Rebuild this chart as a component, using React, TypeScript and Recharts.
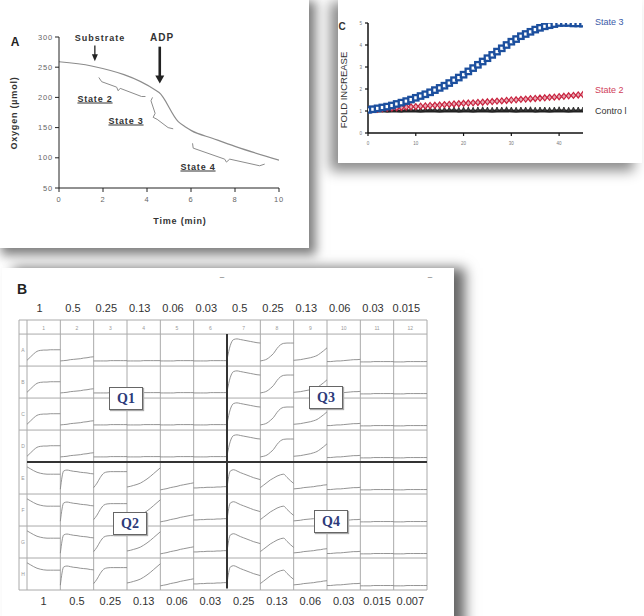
import React from 'react';
import { ComposedChart, Line, XAxis, YAxis, ReferenceLine, ReferenceArea, Scatter } from 'recharts';

// ---------- Panel A data ----------
const timeMin = [0, 1.48, 4.43, 4.55, 5.42, 5.75, 6.02, 7.0, 8.0, 10];
const oxygenUmol = [259, 252, 211, 208, 160, 151, 145, 132, 119, 96];
const xTicksA = [0, 2, 4, 6, 8, 10];
const yTicksA = [50, 100, 150, 200, 250, 300];
const state2BraceX = [1.81, 1.94, 2.62, 2.69, 2.78, 3.75, 3.93];
const state2BraceY = [233, 226, 217, 211, 215, 201.5, 201.5];
const state3BraceX = [4.25, 4.18, 4.37, 4.28, 4.46, 4.96, 5.19];
const state3BraceY = [200, 194.5, 173.6, 167, 163.7, 150, 148];
const state4BraceX = [6.07, 6.1, 7.53, 7.61, 7.76, 9.12, 9.35];
const state4BraceY = [124, 116, 97.8, 92.9, 97.8, 86.8, 89.6];
const arrowX = [1.63, 4.58];
const arrowTopY = [286, 284];
const arrowTipY = [260, 223];

// ---------- Panel C data ----------
const timeC = [0,1,2,3,4,5,6,7,8,9,10,11,12,13,14,15,16,17,18,19,20,21,22,23,24,25,26,27,28,29,30,31,32,33,34,35,36,37,38,39,40,41,42,43,44,45];
const state3Fold = [1.05,1.08,1.12,1.16,1.2,1.25,1.32,1.38,1.45,1.52,1.6,1.68,1.76,1.85,1.95,2.05,2.15,2.27,2.4,2.52,2.65,2.8,2.95,3.1,3.25,3.4,3.55,3.7,3.85,4.0,4.15,4.27,4.4,4.5,4.6,4.7,4.78,4.85,4.9,4.95,5.0,5.0,5.0,4.98,4.98,4.97];
const state2Fold = [1.05,1.07,1.08,1.1,1.12,1.13,1.15,1.16,1.18,1.19,1.2,1.22,1.23,1.25,1.26,1.27,1.29,1.3,1.32,1.33,1.35,1.36,1.37,1.39,1.4,1.42,1.43,1.45,1.46,1.48,1.5,1.51,1.53,1.54,1.56,1.57,1.59,1.6,1.62,1.63,1.65,1.67,1.69,1.71,1.73,1.75];
const controlFold = [1.0,0.99,1.0,1.01,0.99,1.0,1.0,0.99,1.01,1.0,1.0,0.99,1.0,1.01,1.0,0.99,1.0,1.0,1.01,0.99,1.0,1.0,0.99,1.0,1.01,1.0,0.99,1.0,1.0,1.01,1.0,0.99,1.0,1.0,1.01,0.99,1.0,1.0,0.99,1.0,1.01,1.0,0.99,1.0,1.0,1.0];
const xTicksC = [0, 10, 20, 30, 40];
const yTicksC = [0, 1, 2, 3, 4, 5];

// ---------- Panel B data ----------
const topConc = ['1','0.5','0.25','0.13','0.06','0.03','0.5','0.25','0.13','0.06','0.03','0.015'];
const bottomConc = ['1','0.5','0.25','0.13','0.06','0.03','0.25','0.13','0.06','0.03','0.015','0.007'];
const rowLetters = ['A','B','C','D','E','F','G','H'];
const colNumbers = ['1','2','3','4','5','6','7','8','9','10','11','12'];
const traceT = [0,0.1,0.2,0.3,0.4,0.5,0.6,0.7,0.8,0.9,1];
// trace shapes (fraction of cell height from top), read from the wells
const risePlateau = [0.82,0.72,0.62,0.54,0.51,0.5,0.5,0.49,0.49,0.49,0.49];
const slowRise = [0.84,0.83,0.82,0.8,0.79,0.78,0.77,0.75,0.74,0.72,0.71];
const flatLow = [0.84,0.84,0.84,0.84,0.84,0.83,0.83,0.83,0.83,0.83,0.83];
const spikeDecline = [0.8,0.35,0.17,0.15,0.17,0.19,0.21,0.23,0.25,0.27,0.28];
const sigmoidRise = [0.84,0.82,0.78,0.7,0.6,0.45,0.34,0.29,0.28,0.28,0.28];
const expRise = [0.82,0.81,0.8,0.78,0.76,0.74,0.71,0.67,0.6,0.52,0.43];
const faintRise = [0.86,0.86,0.85,0.84,0.84,0.83,0.82,0.81,0.8,0.8,0.79];
const flatBase = [0.87,0.87,0.87,0.87,0.86,0.86,0.86,0.86,0.86,0.86,0.86];
const decay = [0.15,0.21,0.27,0.32,0.35,0.37,0.38,0.38,0.38,0.38,0.38];
const jumpDrift = [0.85,0.28,0.25,0.27,0.29,0.3,0.32,0.33,0.34,0.36,0.37];
const earlySigmoid = [0.8,0.66,0.48,0.35,0.31,0.3,0.3,0.3,0.3,0.3,0.3];
const strongExpRise = [0.78,0.76,0.73,0.7,0.66,0.6,0.53,0.45,0.36,0.27,0.18];
const linearRise = [0.87,0.85,0.83,0.8,0.78,0.76,0.73,0.71,0.69,0.67,0.65];
const flatHigh = [0.81,0.81,0.8,0.8,0.79,0.79,0.79,0.78,0.78,0.77,0.77];
const spikeFall = [0.8,0.28,0.24,0.28,0.33,0.37,0.41,0.45,0.49,0.52,0.55];
const hump = [0.8,0.72,0.64,0.56,0.5,0.44,0.4,0.38,0.48,0.58,0.67];
const q1Shapes = [risePlateau, slowRise, flatLow, flatLow, flatLow, flatLow];
const q3Shapes = [spikeDecline, sigmoidRise, expRise, faintRise, flatBase, flatBase];
const q2Shapes = [decay, jumpDrift, earlySigmoid, strongExpRise, linearRise, flatHigh];
const q4Shapes = [spikeFall, hump, slowRise, faintRise, flatBase, flatBase];

const FONT = '"Liberation Sans", Arial, sans-serif';

const cells: { key: string; data: { x: number; y: number }[] }[] = [];
for (let r = 0; r < 8; r++) {
  for (let c = 0; c < 12; c++) {
    const shape = r < 4 ? (c < 6 ? q1Shapes[c] : q3Shapes[c - 6]) : (c < 6 ? q2Shapes[c] : q4Shapes[c - 6]);
    cells.push({ key: `${r}-${c}`, data: traceT.map((t, i) => ({ x: c + t, y: r + shape[i] })) });
  }
}
const colLabelPts = colNumbers.map((l, i) => ({ x: i + 0.5, y: -0.2, label: l }));
const rowLabelPts = rowLetters.map((l, i) => ({ x: -0.12, y: i + 0.5, label: l }));

const toXY = (xs: number[], ys: number[]) => xs.map((x, i) => ({ x, y: ys[i] }));
const oxygenData = toXY(timeMin, oxygenUmol);
const cData = timeC.map((t, i) => ({ t, s3: state3Fold[i], s2: state2Fold[i], c: controlFold[i] }));

const SquareDot = (p: any) => (p.cx == null ? null : <rect x={p.cx - 2.7} y={p.cy - 2.7} width={5.4} height={5.4} fill="#fff" stroke="#1c4f9e" strokeWidth={2.3} />);
const DiamondDot = (p: any) => (p.cx == null ? null : <path d={`M${p.cx},${p.cy - 3}L${p.cx + 2.4},${p.cy}L${p.cx},${p.cy + 3}L${p.cx - 2.4},${p.cy}Z`} fill="#e8a8b4" stroke="#c8243f" strokeWidth={1.2} />);
const TriDot = (p: any) => (p.cx == null ? null : <path d={`M${p.cx},${p.cy - 4}L${p.cx + 1.8},${p.cy}L${p.cx - 1.8},${p.cy}Z`} fill="#444" stroke="#222" strokeWidth={0.8} />);

const labelShape = (size: number) => (p: any) => (
  <text x={p.cx} y={p.cy} fontSize={size} fill="#999" textAnchor="middle" dominantBaseline="central" fontFamily={FONT}>{p.payload.label}</text>
);

const ArrowHead = (w: number, h: number) => (p: any) => (
  <path d={`M${p.cx},${p.cy}L${p.cx - w / 2},${p.cy - h}L${p.cx + w / 2},${p.cy - h}Z`} fill="#222" />
);

const qBox = (label: string, left: number, top: number) => (
  <div style={{ position: 'absolute', left, top, width: 34, height: 23, boxSizing: 'border-box', border: '1.5px solid #666', background: '#fff', boxShadow: '1px 1px 1px #aaa', display: 'flex', alignItems: 'center', justifyContent: 'center', fontFamily: '"Liberation Serif", "DejaVu Serif", serif', fontWeight: 'bold', fontSize: 14, color: '#2c3b7a' }}>{label}</div>
);

const txt = (s: string, left: number, top: number, style: React.CSSProperties = {}) => (
  <div style={{ position: 'absolute', left, top, transform: 'translate(-50%,-50%)', whiteSpace: 'nowrap', fontFamily: FONT, lineHeight: 1, ...style }}>{s}</div>
);

export default function App() {
  const axisTickA = { fontSize: 7.5, fill: '#666', fontFamily: FONT, letterSpacing: 0.8 };
  return (
    <div style={{ position: 'absolute', left: 0, top: 0, width: 644, height: 616, overflow: 'hidden', background: '#fff' }}>
      {/* Panel B card */}
      <div style={{ position: 'absolute', left: 2, top: 268, width: 452, height: 380, background: '#fff', boxShadow: '11px 0 12px rgba(0,0,0,0.6)' }} />
      {/* Panel A card */}
      <div style={{ position: 'absolute', left: -6, top: -6, width: 315, height: 254, background: '#fff', boxShadow: '7px 7px 10px rgba(0,0,0,0.5)' }} />
      {/* Panel C card */}
      <div style={{ position: 'absolute', left: 338, top: -6, width: 304, height: 169, background: '#fff', boxShadow: '-8px 8px 12px rgba(0,0,0,0.45)' }} />

      {/* ---------- Panel A ---------- */}
      <div style={{ position: 'absolute', left: 0, top: 0 }}>
        <ComposedChart width={309} height={248} margin={{ top: 37, right: 30, bottom: 30, left: 20 }}>
          <XAxis type="number" dataKey="x" domain={[0, 10]} ticks={xTicksA} allowDataOverflow height={30}
            axisLine={{ stroke: '#222' }} tickLine={{ stroke: '#222' }} tickSize={4} tickMargin={5} tick={axisTickA} />
          <YAxis type="number" domain={[50, 300]} ticks={yTicksA} allowDataOverflow width={39}
            axisLine={{ stroke: '#222' }} tickLine={{ stroke: '#222' }} tickSize={4} tickMargin={2} tick={axisTickA} />
          <Line data={oxygenData} dataKey="y" type="monotone" stroke="#8c8c8c" strokeWidth={1.2} dot={false} isAnimationActive={false} />
          <Line data={toXY(state2BraceX, state2BraceY)} dataKey="y" type="linear" stroke="#8c8c8c" strokeWidth={1} dot={false} isAnimationActive={false} />
          <Line data={toXY(state3BraceX, state3BraceY)} dataKey="y" type="linear" stroke="#8c8c8c" strokeWidth={1} dot={false} isAnimationActive={false} />
          <Line data={toXY(state4BraceX, state4BraceY)} dataKey="y" type="linear" stroke="#8c8c8c" strokeWidth={1} dot={false} isAnimationActive={false} />
          <ReferenceLine segment={[{ x: arrowX[0], y: arrowTopY[0] }, { x: arrowX[0], y: arrowTipY[0] + 8 }]} stroke="#222" strokeWidth={1.3} />
          <ReferenceLine segment={[{ x: arrowX[1], y: arrowTopY[1] }, { x: arrowX[1], y: arrowTipY[1] + 10 }]} stroke="#222" strokeWidth={2.6} />
          <Scatter data={[{ x: arrowX[0], y: arrowTipY[0] }]} dataKey="y" shape={ArrowHead(6, 7)} isAnimationActive={false} />
          <Scatter data={[{ x: arrowX[1], y: arrowTipY[1] }]} dataKey="y" shape={ArrowHead(9, 8)} isAnimationActive={false} />
        </ComposedChart>
      </div>
      {txt('A', 15, 42, { fontSize: 12, fontWeight: 'bold', color: '#222' })}
      {txt('Substrate', 100, 38, { fontSize: 9, fontWeight: 'bold', letterSpacing: 1, color: '#333' })}
      {txt('ADP', 162, 38, { fontSize: 10, fontWeight: 'bold', letterSpacing: 1, color: '#333' })}
      {txt('State 2', 95, 99, { fontSize: 9, fontWeight: 'bold', letterSpacing: 0.8, color: '#333', textDecoration: 'underline' })}
      {txt('State 3', 126, 121, { fontSize: 9, fontWeight: 'bold', letterSpacing: 0.8, color: '#333', textDecoration: 'underline' })}
      {txt('State 4', 198, 167, { fontSize: 9, fontWeight: 'bold', letterSpacing: 0.8, color: '#333', textDecoration: 'underline' })}
      {txt('Time (min)', 180, 221, { fontSize: 9, fontWeight: 'bold', letterSpacing: 0.8, color: '#333' })}
      {txt('Oxygen (µmol)', 14, 113, { fontSize: 9, fontWeight: 'bold', letterSpacing: 0.8, color: '#333', transform: 'translate(-50%,-50%) rotate(-90deg)' })}

      {/* ---------- Panel C ---------- */}
      <div style={{ position: 'absolute', left: 338, top: 0 }}>
        <ComposedChart width={304} height={163} data={cData} margin={{ top: 23, right: 59, bottom: 10, left: 10 }}>
          <XAxis type="number" dataKey="t" domain={[0, 45]} ticks={xTicksC} allowDataOverflow height={20}
            axisLine={{ stroke: '#111', strokeWidth: 1.5 }} tickLine={{ stroke: '#111', strokeWidth: 1.2 }} tickSize={3} tickMargin={6}
            tick={{ fontSize: 4.5, fill: '#777', fontFamily: FONT }} />
          <YAxis type="number" domain={[0, 5]} ticks={yTicksC} allowDataOverflow width={20}
            axisLine={{ stroke: '#111', strokeWidth: 1.5 }} tickLine={{ stroke: '#111', strokeWidth: 1.2 }} tickSize={3} tickMargin={3}
            tick={{ fontSize: 4.5, fill: '#777', fontFamily: FONT }} />
          <Line dataKey="c" type="linear" stroke="#222" strokeWidth={3} dot={TriDot} isAnimationActive={false} />
          <Line dataKey="s2" type="linear" stroke="#c8243f" strokeWidth={1.4} dot={DiamondDot} isAnimationActive={false} />
          <Line dataKey="s3" type="linear" stroke="#1c4f9e" strokeWidth={1.5} dot={SquareDot} isAnimationActive={false} />
        </ComposedChart>
      </div>
      {txt('C', 342, 27, { fontSize: 10, fontWeight: 'bold', color: '#333' })}
      {txt('FOLD INCREASE', 344, 90, { fontSize: 9.5, color: '#333', transform: 'translate(-50%,-50%) rotate(-90deg)' })}
      <div style={{ position: 'absolute', left: 595, top: 17, fontFamily: FONT, fontSize: 9, color: '#3a5aa8', whiteSpace: 'nowrap' }}>State 3</div>
      <div style={{ position: 'absolute', left: 595, top: 85, fontFamily: FONT, fontSize: 9, color: '#d0405a', whiteSpace: 'nowrap' }}>State 2</div>
      <div style={{ position: 'absolute', left: 595, top: 106, fontFamily: FONT, fontSize: 9, color: '#333', whiteSpace: 'nowrap' }}>Contro l</div>

      {/* ---------- Panel B ---------- */}
      <div style={{ position: 'absolute', left: 0, top: 280 }}>
        <ComposedChart width={460} height={336} margin={{ top: 10, right: 33, bottom: 6, left: 19 }}>
          <XAxis xAxisId="top" orientation="top" type="number" dataKey="x" domain={[-0.24, 12]} allowDataOverflow height={30}
            ticks={[0.5,1.5,2.5,3.5,4.5,5.5,6.5,7.5,8.5,9.5,10.5,11.5]} tickFormatter={(v: number) => topConc[Math.floor(v)]}
            axisLine={false} tickLine={false} tickSize={0} tickMargin={8} tick={{ fontSize: 11, fill: '#333', fontFamily: FONT, dx: -4 }} />
          <XAxis type="number" dataKey="x" domain={[-0.24, 12]} allowDataOverflow height={20}
            ticks={[0.5,1.5,2.5,3.5,4.5,5.5,6.5,7.5,8.5,9.5,10.5,11.5]} tickFormatter={(v: number) => bottomConc[Math.floor(v)]}
            axisLine={false} tickLine={false} tickSize={0} tickMargin={7} tick={{ fontSize: 11, fill: '#333', fontFamily: FONT }} />
          <YAxis type="number" domain={[-0.44, 8]} reversed allowDataOverflow hide />
          <ReferenceArea x1={-0.24} x2={12} y1={-0.44} y2={8} fill="none" stroke="#aaa" strokeWidth={1} />
          {[0,1,2,3,4,5,7,8,9,10,11].map((v) => (
            <ReferenceLine key={'vx' + v} x={v} stroke="#aaa" strokeWidth={1} />
          ))}
          {[0,1,2,3,5,6,7].map((v) => (
            <ReferenceLine key={'hy' + v} y={v} stroke="#aaa" strokeWidth={1} />
          ))}
          {cells.map((cell) => (
            <Line key={cell.key} data={cell.data} dataKey="y" type="monotone" stroke="#888" strokeWidth={0.9} dot={false} isAnimationActive={false} />
          ))}
          <ReferenceLine segment={[{ x: 6, y: 0 }, { x: 6, y: 7.95 }]} stroke="#333" strokeWidth={2} />
          <ReferenceLine segment={[{ x: 0, y: 4 }, { x: 12, y: 4 }]} stroke="#333" strokeWidth={2} />
          <Scatter data={colLabelPts} dataKey="y" shape={labelShape(5)} isAnimationActive={false} />
          <Scatter data={rowLabelPts} dataKey="y" shape={labelShape(5)} isAnimationActive={false} />
        </ComposedChart>
      </div>
      {txt('B', 22, 289, { fontSize: 14, fontWeight: 'bold', color: '#222' })}
      {txt('–', 222, 277, { fontSize: 8, color: '#555' })}
      {txt('–', 430, 277, { fontSize: 8, color: '#555' })}
      {qBox('Q1', 109, 387)}
      {qBox('Q3', 309, 386)}
      {qBox('Q2', 113, 512)}
      {qBox('Q4', 314, 510)}
    </div>
  );
}
